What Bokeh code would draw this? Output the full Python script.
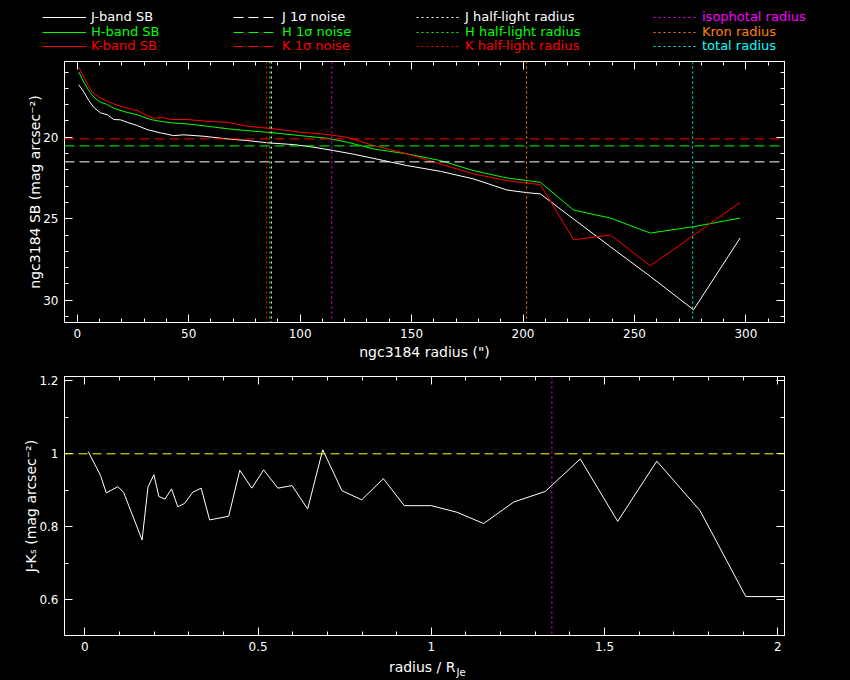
import numpy as np
from bokeh.plotting import figure
from bokeh.models import (Range1d, LinearAxis, SingleIntervalTicker, FixedTicker, Span,
                          Legend, LegendItem, Label)
from bokeh.layouts import column
from bokeh.embed import file_html
from bokeh.resources import INLINE

FONT = "DejaVu Sans"

# ---------------- data ----------------
j_r = [0.7, 3.0, 5.2, 7.4, 10.4, 13.5, 16.4, 19.4, 22.4, 26.9, 31.4, 37.4, 43.3, 47.8,
       56.8, 67.3, 76.2, 85.2, 97.1, 106.1, 115.1, 124.0, 137.5, 148.0, 162.9, 177.9,
       192.8, 201.8, 207.8, 222.7, 239.2, 257.1, 276.5, 297.4]
j_sb = [16.78, 17.23, 17.74, 18.16, 18.50, 18.62, 18.91, 18.93, 19.08, 19.28, 19.53, 19.73,
        19.90, 19.85, 19.94, 20.10, 20.20, 20.34, 20.45, 20.61, 20.82, 21.04, 21.43, 21.74,
        22.09, 22.56, 23.24, 23.40, 23.48, 25.02, 26.72, 28.54, 30.59, 26.18]

h_r = [0.7, 3.0, 5.2, 7.4, 10.4, 13.5, 16.4, 20.9, 26.9, 32.9, 37.4, 41.8, 49.3, 58.3,
       67.3, 76.2, 88.2, 100.1, 112.1, 121.1, 133.0, 148.0, 162.9, 177.9, 192.8, 207.8,
       222.7, 239.2, 257.1, 276.5, 297.4]
h_sb = [16.00, 16.62, 17.13, 17.54, 17.85, 17.99, 18.22, 18.42, 18.62, 18.91, 19.02, 19.11,
        19.18, 19.32, 19.48, 19.59, 19.73, 19.90, 20.06, 20.30, 20.72, 21.02, 21.43, 22.05,
        22.50, 22.77, 24.47, 24.96, 25.88, 25.49, 24.96]

k_r = [0.7, 2.2, 4.5, 6.7, 9.7, 13.5, 16.4, 20.9, 26.9, 31.4, 34.3, 38.8, 41.8, 49.3,
       58.3, 67.3, 76.2, 88.2, 100.1, 112.1, 121.1, 133.0, 148.0, 162.9, 177.9, 192.8,
       207.8, 222.7, 239.2, 257.1, 297.4]
k_sb = [15.70, 16.10, 16.72, 17.23, 17.54, 17.80, 17.95, 18.16, 18.36, 18.67, 18.83, 18.79,
        18.91, 18.91, 19.02, 19.08, 19.32, 19.48, 19.69, 19.83, 20.00, 20.51, 21.02, 21.64,
        22.25, 22.66, 22.91, 26.29, 26.00, 27.89, 24.00]

noise = {"J": 21.51, "H": 20.53, "K": 20.10}
half_light = {"J": 87.1, "H": 86.4, "K": 85.0}
iso_radius = 114.2
kron_radius = 201.6
total_radius = 276.1

color_r = [0.0096, 0.045, 0.0615, 0.095, 0.1115, 0.165, 0.182, 0.199, 0.2135, 0.231, 0.25,
           0.268, 0.2875, 0.3115, 0.3356, 0.36, 0.415, 0.447, 0.4817, 0.516, 0.557, 0.598,
           0.643, 0.6865, 0.742, 0.799, 0.8615, 0.922, 1.0, 1.074, 1.151, 1.238, 1.329,
           1.430, 1.538, 1.651, 1.776, 1.908, 2.05]
color_jk = [1.006, 0.941, 0.893, 0.910, 0.895, 0.764, 0.909, 0.943, 0.883, 0.876, 0.904,
            0.855, 0.864, 0.895, 0.906, 0.819, 0.829, 0.955, 0.906, 0.956, 0.906, 0.913,
            0.849, 1.011, 0.899, 0.874, 0.932, 0.858, 0.858, 0.840, 0.809, 0.868, 0.897,
            0.986, 0.815, 0.980, 0.844, 0.609, 0.609]
jk_ref = 1.0
iso_radius_rel = 1.348

WHITE, GREEN, RED = "#ffffff", "#00ff00", "#ff0000"
MAGENTA, ORANGE, CYAN, YELLOW = "#ff00ff", "#ff8000", "#00ffff", "#ffff00"
DASH = "10 5"
DOT = "2 3"
W = 850
BLACK_BG = {"background-color": "black"}


def style_axis(ax, ticker):
    ax.ticker = ticker
    ax.axis_line_color = "white"
    ax.major_tick_line_color = "white"
    ax.minor_tick_line_color = "white"
    ax.major_tick_in = 8
    ax.major_tick_out = 0
    ax.minor_tick_in = 4
    ax.minor_tick_out = 0
    ax.major_label_text_color = "white"
    ax.major_label_text_font = FONT
    ax.major_label_text_font_size = "12px"
    ax.major_label_standoff = 6
    ax.axis_label_text_color = "white"
    ax.axis_label_text_font = FONT
    ax.axis_label_text_font_style = "normal"
    ax.axis_label_text_font_size = "14px"
    ax.axis_label_standoff = 3


def mirror(p, side, majors, minors):
    # ticks only (no labels) on the opposite sides of the box
    for ticks, length in ((majors, 8), (minors, 4)):
        ax = LinearAxis(ticker=FixedTicker(ticks=[], minor_ticks=list(ticks)))
        ax.axis_line_color = "white"
        ax.minor_tick_line_color = "white"
        ax.minor_tick_in = length
        ax.minor_tick_out = 0
        ax.major_tick_in = 0
        ax.major_tick_out = 0
        ax.major_label_standoff = 0
        p.add_layout(ax, side)


def make_fig(xr, yr, fh, top, bottom):
    p = figure(width=W, frame_width=720, frame_height=fh, x_range=xr, y_range=yr,
               output_backend="svg", toolbar_location=None,
               background_fill_color="black", border_fill_color="black",
               min_border_left=64, min_border_right=66,
               min_border_top=top, min_border_bottom=bottom, styles=BLACK_BG)
    p.grid.visible = False
    p.outline_line_color = "white"
    return p


def strip(h):
    s = figure(width=W, height=h, frame_width=W, frame_height=h,
               x_range=Range1d(0, 1), y_range=Range1d(0, 1),
               x_axis_type=None, y_axis_type=None, output_backend="svg",
               toolbar_location=None, background_fill_color="black",
               border_fill_color="black", min_border=0, frame_align=False,
               styles=BLACK_BG)
    s.grid.visible = False
    s.outline_line_color = None
    return s


# ---------------- header with the legend ----------------
ph = strip(53)


def sample(color, dash=None):
    kw = {} if dash is None else {"line_dash": dash}
    # a renderer that only supplies the legend swatch (its single point is empty)
    return ph.line(x=[np.nan], y=[np.nan], line_color=color, line_width=1, **kw)


legend_rows = [
    [(sample(WHITE), "J-band SB", WHITE), (sample(WHITE, DASH), "J 1\u03c3 noise", WHITE),
     (sample(WHITE, DOT), "J half-light radius", WHITE),
     (sample(MAGENTA, DOT), "isophotal radius", MAGENTA)],
    [(sample(GREEN), "H-band SB", GREEN), (sample(GREEN, DASH), "H 1\u03c3 noise", GREEN),
     (sample(GREEN, DOT), "H half-light radius", GREEN),
     (sample(ORANGE, DOT), "Kron radius", ORANGE)],
    [(sample(RED), "K-band SB", RED), (sample(RED, DASH), "K 1\u03c3 noise", RED),
     (sample(RED, DOT), "K half-light radius", RED),
     (sample(CYAN, DOT), "total radius", CYAN)],
]
col_x = [42, 233, 416, 653]
row_y = [27.5, 12.5, -1.5]
for ri, row in enumerate(legend_rows):
    for ci, (rend, lab, col) in enumerate(row):
        ph.add_layout(Legend(items=[LegendItem(label=lab, renderers=[rend], index=0)],
                             location=(col_x[ci], row_y[ri]),
                             background_fill_alpha=0, border_line_alpha=0,
                             label_text_color=col, label_text_font=FONT,
                             label_text_font_size="13px", glyph_width=44, glyph_height=18,
                             label_height=18, label_standoff=5, padding=0, margin=0,
                             spacing=0))

# ---------------- top panel ----------------
p1 = make_fig(Range1d(-5.7, 317.3), Range1d(31.37, 15.35), 261, 8, 43)
style_axis(p1.xaxis[0], SingleIntervalTicker(interval=50, num_minor_ticks=5))
style_axis(p1.yaxis[0], SingleIntervalTicker(interval=5, num_minor_ticks=5))
p1.yaxis[0].axis_label_standoff = -3
p1.xaxis[0].axis_label = 'ngc3184 radius (")'
p1.yaxis[0].axis_label = "ngc3184 SB (mag arcsec\u207b\u00b2)"
mirror(p1, "above", np.arange(0, 320, 50), np.arange(0, 320, 10))
mirror(p1, "right", np.arange(20, 31, 5), np.arange(16, 32, 1))

p1.line(j_r, j_sb, line_color=WHITE, line_width=1)
p1.line(h_r, h_sb, line_color=GREEN, line_width=1)
p1.line(k_r, k_sb, line_color=RED, line_width=1)

band_colors = {"J": WHITE, "H": GREEN, "K": RED}
for b in ["J", "H", "K"]:
    p1.add_layout(Span(location=noise[b], dimension="width", line_color=band_colors[b],
                       line_dash=DASH, line_width=1))
for b in ["K", "H", "J"]:
    p1.add_layout(Span(location=half_light[b], dimension="height",
                       line_color=band_colors[b], line_dash=DOT, line_width=1))
for loc, col in ((iso_radius, MAGENTA), (kron_radius, ORANGE), (total_radius, CYAN)):
    p1.add_layout(Span(location=loc, dimension="height", line_color=col,
                       line_dash=DOT, line_width=1))

# ---------------- bottom panel ----------------
p2 = make_fig(Range1d(-0.059, 2.0196), Range1d(0.5025, 1.2117), 259, 11, 21)
style_axis(p2.xaxis[0], SingleIntervalTicker(interval=0.5, num_minor_ticks=5))
style_axis(p2.yaxis[0], SingleIntervalTicker(interval=0.2, num_minor_ticks=2))
p2.yaxis[0].axis_label_standoff = -3
p2.yaxis[0].axis_label = "J-K\u209b (mag arcsec\u207b\u00b2)"
mirror(p2, "above", np.arange(0, 2.01, 0.5), np.arange(0, 2.01, 0.1))
mirror(p2, "right", np.arange(0.6, 1.21, 0.2), np.arange(0.6, 1.21, 0.1))

p2.line(color_r, color_jk, line_color=WHITE, line_width=1)
p2.add_layout(Span(location=jk_ref, dimension="width", line_color=YELLOW,
                   line_dash="9 5", line_width=1))
p2.add_layout(Span(location=iso_radius_rel, dimension="height", line_color=MAGENTA,
                   line_dash=DOT, line_width=1))

# ---------------- footer: x label of the bottom panel ----------------
pf = strip(24)
pf.add_layout(Label(x=455, y=14, x_units="screen", y_units="screen", text="radius / R",
                    text_color="white", text_font=FONT, text_font_size="14px",
                    text_align="right", text_baseline="middle"))
pf.add_layout(Label(x=456, y=8, x_units="screen", y_units="screen", text="Je",
                    text_color="white", text_font=FONT, text_font_size="10px",
                    text_align="left", text_baseline="middle"))

layout = column(ph, p1, p2, pf, spacing=0, styles=BLACK_BG)

open("out.html", "w").write(file_html(layout, INLINE))
